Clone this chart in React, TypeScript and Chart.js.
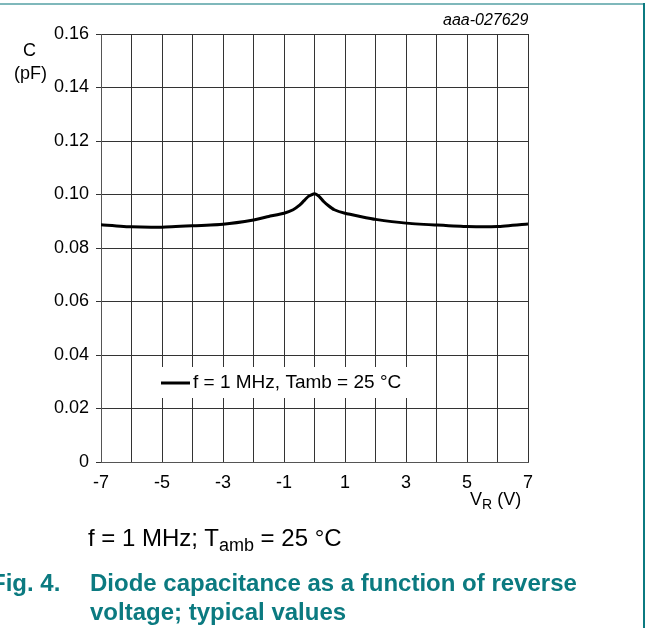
import React, { useEffect, useRef } from "react";
import { Chart, registerables } from "chart.js";

Chart.register(...registerables);

// Reverse voltage (V)
const voltage = [-7, -6, -5, -4, -3, -2, -1.5, -1, -0.7, -0.5, -0.35, -0.2, 0, 0.15, 0.3, 0.45, 0.65, 1, 1.5, 2, 3, 4, 5, 6, 7];
// Diode capacitance (pF)
const capacitance = [0.0887, 0.0879, 0.0878, 0.0883, 0.0889, 0.0905, 0.0918, 0.093, 0.0943, 0.0959, 0.0976, 0.0993, 0.1003, 0.0993, 0.0974, 0.0959, 0.0943, 0.093, 0.0918, 0.0907, 0.0893, 0.0886, 0.088, 0.088, 0.089];
const seriesLabel = "f = 1 MHz, Tamb = 25 °C";
const xTickLabels = ["-7", "-5", "-3", "-1", "1", "3", "5", "7"];
const yTickLabels = ["0", "0.02", "0.04", "0.06", "0.08", "0.10", "0.12", "0.14", "0.16"];

const FONT = "'Liberation Sans', Arial, Helvetica, sans-serif";
const TEAL = "#0b7a80";

const innerLegend = {
  id: "innerLegend",
  afterDraw(chart: any) {
    const ctx = chart.ctx;
    const ds = chart.data.datasets[0];
    ctx.save();
    ctx.fillStyle = "#ffffff";
    ctx.fillRect(150, 367, 262, 31);
    ctx.strokeStyle = "#000";
    ctx.lineWidth = 3;
    ctx.beginPath();
    ctx.moveTo(161, 383);
    ctx.lineTo(190, 383);
    ctx.stroke();
    ctx.fillStyle = "#000";
    ctx.font = `19px ${FONT}`;
    ctx.textBaseline = "middle";
    ctx.textAlign = "left";
    ctx.fillText(ds.label, 193, 383);
    ctx.restore();
  },
};

export default function App() {
  const ref = useRef<HTMLCanvasElement>(null);

  useEffect(() => {
    if (!ref.current) return;
    const chart = new Chart(ref.current, {
      type: "line",
      data: {
        datasets: [
          {
            label: seriesLabel,
            data: voltage.map((v, i) => ({ x: v, y: capacitance[i] })),
            borderColor: "#000",
            borderWidth: 3,
            pointRadius: 0,
            fill: false,
            tension: 0.15,
          },
        ],
      },
      options: {
        responsive: false,
        animation: false,
        layout: { padding: { top: 34, right: 118, left: 0, bottom: 0 } },
        plugins: { legend: { display: false }, tooltip: { enabled: false }, title: { display: false } },
        scales: {
          x: {
            type: "linear",
            min: -7,
            max: 7,
            afterFit: (s: any) => { s.height = 166; },
            ticks: {
              stepSize: 1,
              autoSkip: false,
              maxRotation: 0,
              padding: 10,
              color: "#000",
              font: { family: FONT, size: 18 },
              callback: (v: any) => {
                const s = String(v);
                return xTickLabels.includes(s) ? s : "";
              },
            },
            grid: { color: "#333", lineWidth: 1, drawTicks: false, tickLength: 0 },
            border: { color: "#555", width: 1 },
          },
          y: {
            min: 0,
            max: 0.16,
            afterFit: (s: any) => { s.width = 101; },
            ticks: {
              stepSize: 0.02,
              padding: 7,
              color: "#000",
              font: { family: FONT, size: 18 },
              callback: (v: any) => yTickLabels[Math.round(Number(v) / 0.02)] ?? "",
            },
            grid: { color: "#333", lineWidth: 1, tickLength: 5 },
            border: { color: "#555", width: 1 },
          },
        },
      },
      plugins: [innerLegend],
    });
    return () => chart.destroy();
  }, []);

  const abs = (s: React.CSSProperties): React.CSSProperties => ({
    position: "absolute",
    whiteSpace: "nowrap",
    lineHeight: 1,
    fontFamily: FONT,
    color: "#000",
    ...s,
  });

  return (
    <div style={{ position: "fixed", left: 0, top: 0, width: 646, height: 628, background: "#fff", overflow: "hidden" }}>
      <canvas ref={ref} width={646} height={628} style={{ position: "absolute", left: 0, top: 0, width: 646, height: 628 }} />
      <div style={{ position: "absolute", left: 0, top: 3, width: 645, height: 2, background: "#7fb8bb" }} />
      <div style={{ position: "absolute", left: 643, top: 3, width: 2, height: 625, background: TEAL }} />
      <div style={abs({ left: 443, top: 12, fontSize: 16, fontStyle: "italic" })}>aaa-027629</div>
      <div style={abs({ left: 23, top: 41, fontSize: 18 })}>C</div>
      <div style={abs({ left: 14, top: 64, fontSize: 18 })}>(pF)</div>
      <div style={abs({ left: 470, top: 490, fontSize: 18 })}>
        V<sub style={{ fontSize: 14, verticalAlign: -4 }}>R</sub> (V)
      </div>
      <div style={abs({ left: 88, top: 526, fontSize: 24 })}>
        f = 1 MHz; T<sub style={{ fontSize: 18, verticalAlign: -5 }}>amb</sub> = 25 °C
      </div>
      <div style={abs({ left: -9, top: 568, fontSize: 24, fontWeight: "bold", color: TEAL, lineHeight: "29px" })}>Fig. 4.</div>
      <div style={abs({ left: 90, top: 568, fontSize: 24, fontWeight: "bold", color: TEAL, lineHeight: "29px" })}>
        Diode capacitance as a function of reverse
        <br />
        voltage; typical values
      </div>
    </div>
  );
}
